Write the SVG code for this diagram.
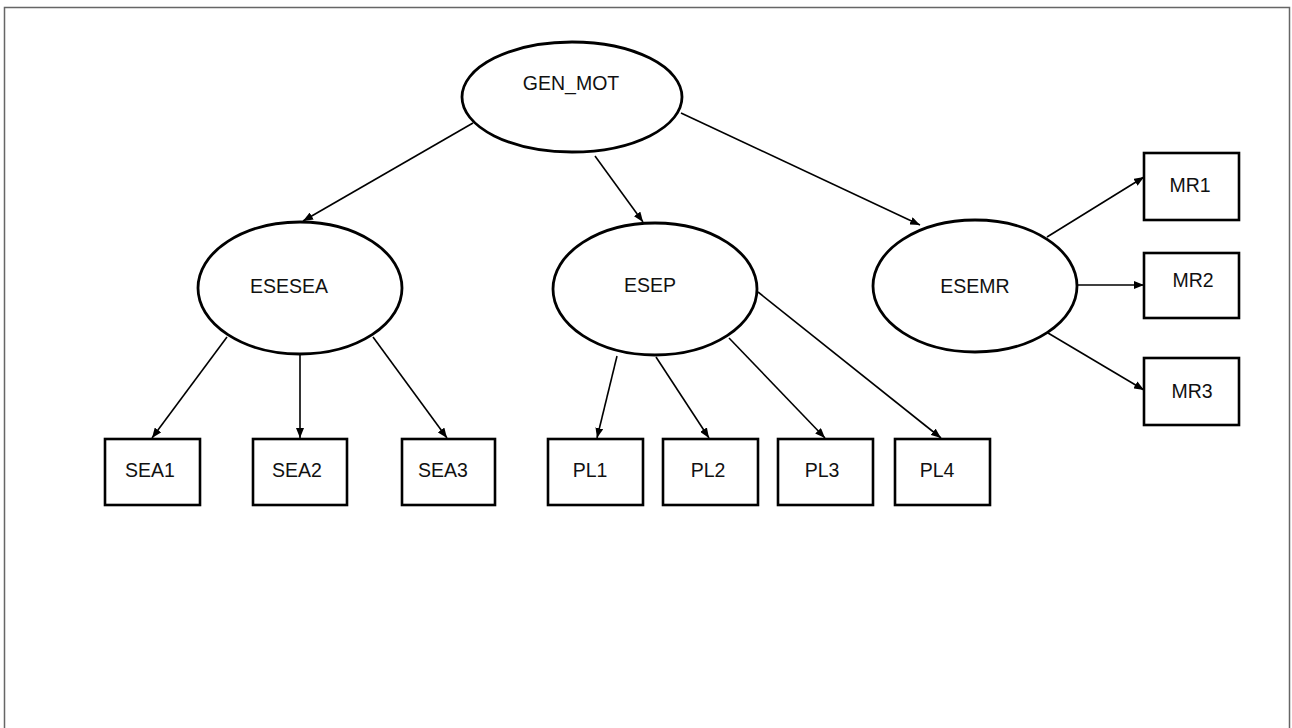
<svg xmlns="http://www.w3.org/2000/svg" width="1292" height="728" viewBox="0 0 1292 728">
<style>
  .ell { fill: #fff; stroke: #000; stroke-width: 2.8; }
  .box { fill: #fff; stroke: #000; stroke-width: 2.6; }
  .lbl { font-family: "Liberation Sans", Arial, sans-serif; font-size: 19.5px; fill: #111; text-anchor: middle; }
  .edge { stroke: #000; stroke-width: 1.6; fill: none; marker-end: url(#arr); }
</style>
<defs>
  <marker id="arr" markerUnits="userSpaceOnUse" markerWidth="10" markerHeight="8" refX="10" refY="4" orient="auto">
    <path d="M0,0 L10,4 L0,8 z" fill="#000"/>
  </marker>
</defs>
<rect x="0" y="0" width="1292" height="728" fill="#fff"/>
<rect x="4.5" y="7.5" width="1285" height="740" fill="none" stroke="#666" stroke-width="1.5"/>

<g id="connectors">
  <line class="edge" x1="473" y1="123" x2="303" y2="221"/>
  <line class="edge" x1="595" y1="156" x2="643" y2="222"/>
  <line class="edge" x1="681" y1="113" x2="920" y2="225"/>
  <line class="edge" x1="227" y1="337" x2="152" y2="438"/>
  <line class="edge" x1="300" y1="355" x2="300" y2="438"/>
  <line class="edge" x1="373" y1="337" x2="447" y2="438"/>
  <line class="edge" x1="617" y1="356" x2="597" y2="438"/>
  <line class="edge" x1="656" y1="357" x2="709" y2="438"/>
  <line class="edge" x1="729" y1="338" x2="825" y2="438"/>
  <line class="edge" x1="758" y1="292" x2="941" y2="438"/>
  <line class="edge" x1="1047" y1="237" x2="1144" y2="177"/>
  <line class="edge" x1="1077" y1="285" x2="1144" y2="285"/>
  <line class="edge" x1="1048" y1="333" x2="1144" y2="390"/>
</g>

<g id="GEN_MOT">
  <ellipse class="ell" cx="572" cy="97" rx="110" ry="55"/>
  <text class="lbl" x="571" y="90">GEN_MOT</text>
</g>
<g id="ESESEA">
  <ellipse class="ell" cx="300" cy="288" rx="102" ry="66"/>
  <text class="lbl" x="289" y="293">ESESEA</text>
</g>
<g id="ESEP">
  <ellipse class="ell" cx="655" cy="289" rx="102" ry="66"/>
  <text class="lbl" x="650" y="292">ESEP</text>
</g>
<g id="ESEMR">
  <ellipse class="ell" cx="975" cy="286" rx="102" ry="66"/>
  <text class="lbl" x="975" y="293">ESEMR</text>
</g>

<g id="MR1">
  <rect class="box" x="1144" y="153" width="95" height="67"/>
  <text class="lbl" x="1190" y="192">MR1</text>
</g>
<g id="MR2">
  <rect class="box" x="1144" y="253" width="95" height="65"/>
  <text class="lbl" x="1193" y="287">MR2</text>
</g>
<g id="MR3">
  <rect class="box" x="1144" y="358" width="95" height="67"/>
  <text class="lbl" x="1192" y="398">MR3</text>
</g>

<g id="SEA1">
  <rect class="box" x="105" y="439" width="95" height="66"/>
  <text class="lbl" x="150" y="477">SEA1</text>
</g>
<g id="SEA2">
  <rect class="box" x="253" y="439" width="94" height="66"/>
  <text class="lbl" x="297" y="477">SEA2</text>
</g>
<g id="SEA3">
  <rect class="box" x="402" y="439" width="93" height="66"/>
  <text class="lbl" x="443" y="477">SEA3</text>
</g>

<g id="PL1">
  <rect class="box" x="548" y="439" width="95" height="66"/>
  <text class="lbl" x="590" y="477">PL1</text>
</g>
<g id="PL2">
  <rect class="box" x="663" y="439" width="95" height="66"/>
  <text class="lbl" x="708" y="477">PL2</text>
</g>
<g id="PL3">
  <rect class="box" x="778" y="439" width="95" height="66"/>
  <text class="lbl" x="822" y="477">PL3</text>
</g>
<g id="PL4">
  <rect class="box" x="895" y="439" width="95" height="66"/>
  <text class="lbl" x="937" y="477">PL4</text>
</g>
</svg>
